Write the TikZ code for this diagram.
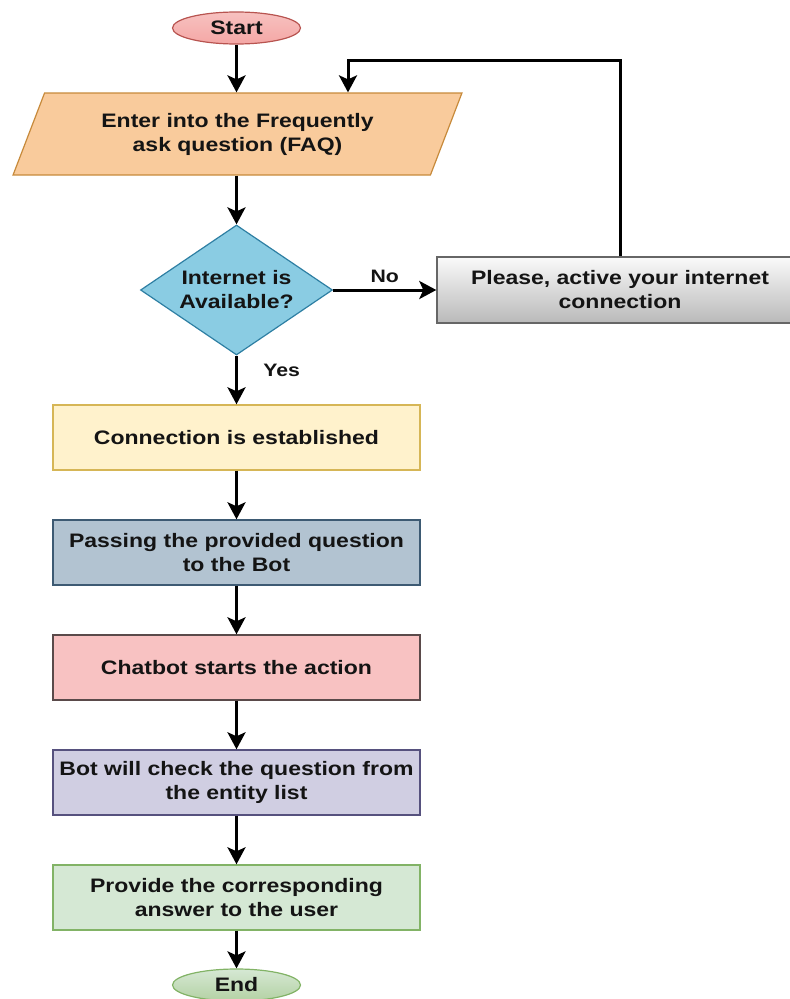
\documentclass[tikz,border=0pt]{standalone}
\usepackage{fontspec}
\setmainfont{Liberation Sans}[FakeStretch=1.18]
\usepackage{tikz}
\usetikzlibrary{arrows.meta,shapes.geometric}

\definecolor{startfill}{HTML}{F4A7A5}
\definecolor{startline}{HTML}{B85450}
\definecolor{faqfill}{HTML}{F9CB9C}
\definecolor{faqline}{HTML}{C78A3B}
\definecolor{askfill}{HTML}{8ACCE3}
\definecolor{askline}{HTML}{2E7FA3}
\definecolor{connfill}{HTML}{FFF2CC}
\definecolor{connline}{HTML}{D6B656}
\definecolor{passfill}{HTML}{B2C3D1}
\definecolor{passline}{HTML}{3D5A73}
\definecolor{actfill}{HTML}{F8C2C2}
\definecolor{actline}{HTML}{5A4A4A}
\definecolor{checkfill}{HTML}{D0CEE2}
\definecolor{checkline}{HTML}{56517E}
\definecolor{ansfill}{HTML}{D5E8D4}
\definecolor{ansline}{HTML}{82B366}

\begin{document}
\begin{tikzpicture}[x=1pt, y=-1pt,
  every node/.style={font=\fontsize{19.5}{24}\selectfont\bfseries, text=black!92},
  box/.style={draw, line width=1.4pt, minimum width=367pt, minimum height=65pt, align=center, inner sep=2pt},
  term/.style={ellipse, draw, line width=1.2pt, minimum width=128pt, minimum height=32pt, inner sep=0pt},
  arrow/.style={-{Stealth[length=17pt, width=18pt, inset=4pt]}, line width=3pt},
  label/.style={font=\fontsize{18}{20}\selectfont\bfseries}
]
\useasboundingbox (0,0) rectangle (790,999);

\node[term, draw=startline, top color=startfill!70!white, bottom color=startfill] (start) at (236.5, 28) {Start};

\node[trapezium, trapezium left angle=65, trapezium right angle=115, trapezium stretches=true,
  draw=faqline, fill=faqfill, line width=1.2pt, minimum width=451pt, minimum height=82pt, align=center] (faq) at (237.5, 134) {Enter into the Frequently\\ask question (FAQ)};

\node[diamond, aspect=1.48, draw=askline, fill=askfill, line width=1.2pt, minimum width=192pt, minimum height=130pt, inner sep=0pt, align=center] (ask) at (236.5, 290) {Internet is\\Available?};

\node[box, draw=black!60, top color=white!96!gray, bottom color=gray!55, minimum width=366pt, minimum height=66pt] (please) at (620, 290) {Please, active your internet\\connection};

\node[box, draw=connline, fill=connfill] (conn) at (236.5, 437.5) {Connection is established};
\node[box, draw=passline, fill=passfill] (pass) at (236.5, 552.5) {Passing the provided question\\to the Bot};
\node[box, draw=actline, fill=actfill] (act) at (236.5, 667.5) {Chatbot starts the action};
\node[box, draw=checkline, fill=checkfill] (check) at (236.5, 782.5) {Bot will check the question from\\the entity list};
\node[box, draw=ansline, fill=ansfill] (ans) at (236.5, 897.5) {Provide the corresponding\\answer to the user};

\node[term, draw=ansline, top color=ansfill, bottom color=ansline!60!white] (stop) at (236.5, 985) {End};

\coordinate (loop) at (348, 60);

\draw[arrow] (start) -- (faq.north -| start);
\draw[arrow] (faq.south -| start) -- (ask);
\draw[arrow] (ask) -- (please) node[midway, above, label, yshift=2pt] {No};
\draw[arrow] (ask) -- (conn) node[pos=0.3, right, label, xshift=22pt] {Yes};
\draw[arrow] (conn) -- (pass);
\draw[arrow] (pass) -- (act);
\draw[arrow] (act) -- (check);
\draw[arrow] (check) -- (ans);
\draw[arrow] (ans) -- (stop);
\draw[arrow] (please.north) |- (loop) -- (loop |- faq.north);

\end{tikzpicture}
\end{document}
